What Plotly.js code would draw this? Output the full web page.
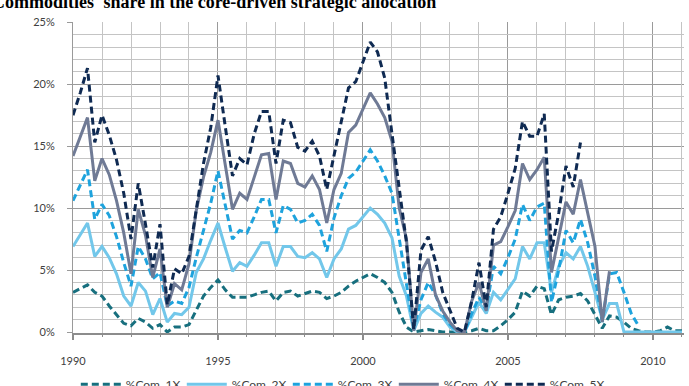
<!DOCTYPE html>
<html>
<head>
<meta charset="utf-8">
<script src="https://cdn.plot.ly/plotly-3.0.1.min.js"></script>
<style>html,body{margin:0;padding:0;background:#fff;}#chart{width:689px;height:386px;}</style>
</head>
<body>
<div id="chart"></div>
<script>
const dates = [1990,1990.25,1990.5,1990.75,1991,1991.25,1991.5,1991.75,1992,1992.25,1992.5,1992.75,
1993,1993.25,1993.5,1993.75,1994,1994.25,1994.5,1994.75,1995,1995.25,1995.5,1995.75,
1996,1996.25,1996.5,1996.75,1997,1997.25,1997.5,1997.75,1998,1998.25,1998.5,1998.75,
1999,1999.25,1999.5,1999.75,2000,2000.25,2000.5,2000.75,2001,2001.25,2001.5,2001.75,
2002,2002.25,2002.5,2002.75,2003,2003.25,2003.5,2003.75,2004,2004.25,2004.5,2004.75,
2005,2005.25,2005.5,2005.75,2006,2006.25,2006.5,2006.75,2007,2007.25,2007.5,2007.75,
2008,2008.25,2008.5,2008.75,2009,2009.25,2009.5,2009.75,2010,2010.25,2010.5,2010.75,2011];

const com1X = [3.2,3.5,3.8,3.2,2.9,2.1,1.4,0.7,0.5,1.1,0.8,0.3,0.6,0.0,0.4,0.4,0.6,1.8,2.9,3.6,
4.2,3.4,2.8,2.8,2.8,3.0,3.2,3.3,2.5,3.2,3.3,2.9,3.1,3.3,3.2,2.7,2.9,3.2,3.7,4.1,
4.4,4.7,4.4,4.0,3.2,1.6,0.4,0.0,0.1,0.2,0.1,0.0,0.0,0.0,0.0,0.1,0.3,0.1,0.1,0.5,
1.0,1.6,3.3,2.9,3.7,3.5,1.4,2.6,2.8,2.9,3.1,2.5,1.4,0.3,1.3,1.2,0.8,0.3,0.1,0.0,
0.0,0.1,0.4,0.1,0.1];

const com2X = [6.9,7.8,8.8,6.1,6.9,6.0,4.7,2.9,2.1,4.0,3.3,1.4,2.7,0.8,1.5,1.4,2.0,4.8,5.9,7.4,
8.8,6.8,4.9,5.6,5.3,6.2,7.2,7.2,5.3,6.9,6.9,6.1,6.0,6.4,5.9,4.4,5.9,6.7,8.3,8.6,
9.3,10.0,9.5,8.8,7.6,4.5,2.9,0.1,1.5,2.1,1.6,1.2,0.4,0.0,0.0,1.2,2.4,1.5,3.2,2.6,
3.4,4.3,6.9,5.9,7.2,7.2,3.2,5.3,6.4,5.9,6.9,5.3,3.2,1.0,2.3,2.3,0.0,0.0,0.0,0.0,
0.0,0.0,0.0,0.0,0.0];

const com3X = [10.6,11.9,13.1,9.1,10.3,9.4,7.7,5.6,3.7,6.9,5.9,4.3,4.8,2.1,2.5,2.3,3.6,6.0,8.1,10.4,
13.0,10.3,7.5,8.2,8.0,9.3,10.7,10.7,8.0,10.2,9.9,8.8,9.0,9.5,8.6,6.5,9.2,11.0,12.4,12.9,
13.8,14.7,13.8,12.6,11.2,7.5,3.8,0.2,2.6,4.0,3.0,1.5,0.6,0.1,0.0,1.5,2.8,1.8,5.3,4.7,
6.0,7.5,10.3,9.0,10.1,10.4,2.4,5.0,8.2,7.2,9.1,7.2,4.5,0.8,4.7,4.8,3.2,1.5,0.5];

const com4X = [14.2,15.8,17.3,12.2,14.0,12.7,10.6,8.0,4.7,9.9,7.8,4.4,6.7,2.0,3.9,3.4,5.5,9.8,12.5,14.5,
17.1,13.5,9.9,11.2,10.7,12.5,14.3,14.4,10.7,13.8,13.6,12.0,11.7,12.6,11.5,8.8,11.5,12.8,16.1,16.7,
18.0,19.3,18.4,17.3,15.4,10.0,7.5,0.1,4.8,5.9,3.0,1.7,0.8,0.1,0.0,2.5,4.0,1.7,7.0,7.3,
8.5,9.8,13.6,12.3,13.1,14.1,4.8,7.7,10.5,9.5,12.3,9.6,6.9,0.8,4.9];

const com5X = [17.5,19.3,21.3,15.3,17.5,15.9,13.9,11.2,7.5,12.0,8.7,5.2,8.7,2.2,5.1,4.7,6.1,10.0,13.6,16.5,
20.7,16.6,12.6,14.0,13.5,16.0,17.8,17.8,13.6,17.1,16.9,14.9,14.6,15.4,14.2,11.5,14.2,17.0,19.7,20.2,
21.8,23.4,22.6,20.5,16.0,11.5,7.2,0.2,6.6,7.7,5.7,3.2,1.8,0.3,0.0,2.5,5.6,2.0,8.3,9.3,
11.2,13.2,17.0,15.8,15.8,17.6,6.5,9.6,13.4,11.7,15.3];

const seriesNames = ['%Com_1X','%Com_2X','%Com_3X','%Com_4X','%Com_5X'];
const seriesValues = [com1X, com2X, com3X, com4X, com5X];
const seriesColors = ['#176f7e','#72c7ea','#1ea3dd','#6f7a95','#0f2a52'];
const seriesDash = ['7px,4px','solid','7px,4px','solid','7px,4px'];

// minor gridline positions (years and percent levels between the labelled ones)
const minorYears = [1991,1992,1993,1994,1996,1997,1998,1999,2001,2002,2003,2004,2006,2007,2008,2009,2011];
const minorPcts = [1,2,3,4,6,7,8,9,11,12,13,14,16,17,18,19,21,22,23,24];

const traces = seriesValues.map((v, k) => ({
  x: dates.slice(0, v.length),
  y: v,
  name: seriesNames[k],
  type: 'scatter',
  mode: 'lines',
  line: {color: seriesColors[k], width: 3, dash: seriesDash[k]},
  hoverinfo: 'skip'
}));
// empty helper trace so the minor-grid overlay axes exist
traces.push({x: [], y: [], xaxis: 'x2', yaxis: 'y2', type: 'scatter', mode: 'lines', showlegend: false, hoverinfo: 'skip'});

const tickFont = {family: 'Lato, "Open Sans", sans-serif', size: 11, color: '#404040'};
const xRange = [1990, 2011.07];
const yRange = [-0.08, 25.02];

const layout = {
  width: 689, height: 386,
  margin: {l: 73, r: 5, t: 22, b: 53},
  paper_bgcolor: '#fff', plot_bgcolor: '#fff',
  showlegend: true,
  legend: {
    orientation: 'h', xref: 'container', yref: 'container', x: 0.11, xanchor: 'left', y: 0.042, yanchor: 'top',
    font: {family: 'Lato, "Open Sans", sans-serif', size: 12, color: '#404040'},
    entrywidth: 51, itemwidth: 40, tracegroupgap: 0
  },
  xaxis: {
    range: xRange, tickmode: 'linear', tick0: 1990, dtick: 5,
    showgrid: true, gridcolor: '#9a9a9a', gridwidth: 1,
    showline: true, linecolor: '#8c8c8c', linewidth: 2,
    ticks: 'outside', ticklen: 5, tickcolor: '#8c8c8c', tickwidth: 1.5,
    ticklabelstandoff: 12, tickfont: tickFont, zeroline: false
  },
  yaxis: {
    range: yRange, tickmode: 'linear', tick0: 0, dtick: 5, ticksuffix: '%',
    showgrid: true, gridcolor: '#9a9a9a', gridwidth: 1,
    showline: true, linecolor: '#9a9a9a', linewidth: 1,
    ticks: 'outside', ticklen: 5, tickcolor: '#9a9a9a',
    ticklabelstandoff: 10, tickfont: tickFont, zeroline: false
  },
  xaxis2: {
    overlaying: 'x', anchor: 'y2', side: 'bottom',
    range: xRange, tickmode: 'array', tickvals: minorYears,
    showgrid: true, gridcolor: '#c4c4c4', gridwidth: 1,
    showline: false, ticks: 'outside', ticklen: 3, tickcolor: '#8c8c8c',
    showticklabels: false, zeroline: false
  },
  yaxis2: {
    overlaying: 'y', anchor: 'x2', side: 'left',
    range: yRange, tickmode: 'array', tickvals: minorPcts,
    showgrid: true, gridcolor: '#c4c4c4', gridwidth: 1,
    showline: false, ticks: '', showticklabels: false, zeroline: false
  },
  annotations: [{
    text: "Commodities' share in the core-driven strategic allocation",
    xref: 'paper', yref: 'paper', x: -0.136, xanchor: 'left', y: 1.026, yanchor: 'bottom',
    showarrow: false,
    font: {family: '"Liberation Serif", "Times New Roman", serif', size: 18, color: '#000', weight: 'bold'}
  }]
};

Plotly.newPlot('chart', traces, layout, {displayModeBar: false, staticPlot: true});
</script>
</body>
</html>
